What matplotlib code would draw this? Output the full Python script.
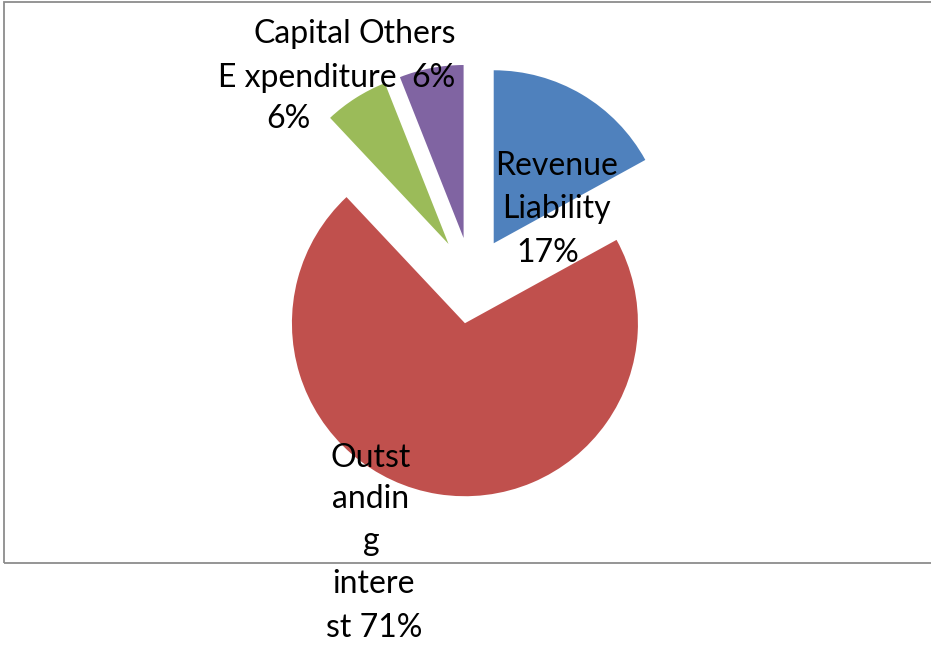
import matplotlib.pyplot as plt
from matplotlib.patches import Rectangle

# share of the budget, clockwise from 12 o'clock
categories = ["Revenue Liability", "Outstanding interest", "Capital Expenditure", "Others"]
shares = [17, 71, 6, 6]
colors = ["#4F81BD", "#C0504D", "#9BBB59", "#8064A2"]

# the wrapped data labels, one list of lines per slice
label_lines = [
    ["Revenue", "Liability", "17%"],
    ["Outst", "andin", "g", "intere", "st 71%"],
    ["Capital", "E xpenditure", "6%"],
    ["Others", "6%"],
]
# (x centre, baseline) of each label line in pixels
label_pos = [
    [(557, 175), (556, 218), (548, 262)],
    [(371, 467), (371, 508), (371, 550), (373, 593), (374, 637)],
    [(302, 43), (307, 87), (288, 128)],
    [(407, 43), (433, 87)],
]

W, H = 931, 646
R = 173.0              # pie radius in pixels
cx, cy = 471.7, 280.5  # pie centre in pixels

fig = plt.figure(figsize=(W / 100, H / 100), dpi=100)
fig.patch.set_facecolor("white")

# chart area border
fig.patches.append(Rectangle((4 / W, 1 - 563 / H), 1.0, (563 - 2) / H,
                             transform=fig.transFigure, fill=False,
                             edgecolor="#8c8c8c", linewidth=1.3, zorder=0))

ax = fig.add_axes([0, 0, 1, 1])
ax.pie(shares, colors=colors, startangle=90, counterclock=False,
       explode=[0.25] * len(shares), radius=1,
       wedgeprops=dict(linewidth=0))
ax.set_xlim(-cx / R, (W - cx) / R)
ax.set_ylim(-(H - cy) / R, cy / R)
ax.set_aspect("equal")
ax.axis("off")

for lines, pos in zip(label_lines, label_pos):
    for txt, (x, y) in zip(lines, pos):
        fig.text(x / W, 1 - y / H, txt, ha="center", va="baseline",
                 fontsize=23, family="Lato", color="black")

fig.savefig("out.png", dpi=100)
